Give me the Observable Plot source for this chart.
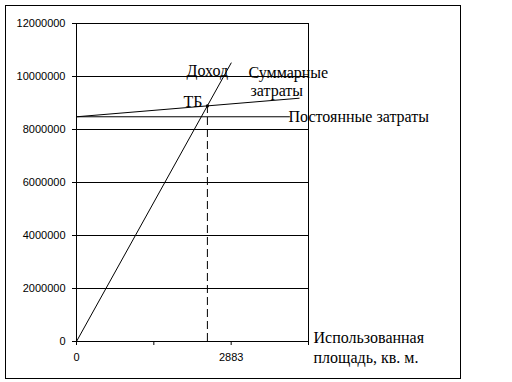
<!DOCTYPE html>
<html><head><meta charset="utf-8">
<script src="https://cdn.jsdelivr.net/npm/d3@7"></script>
<script src="https://cdn.jsdelivr.net/npm/@observablehq/plot@0.6"></script>
<style>
html,body{margin:0;padding:0;background:#fff;}
#wrap{position:relative;width:512px;height:382px;overflow:hidden;}
#frame{position:absolute;left:5px;top:5px;width:454px;height:372px;border:1px solid #000;}
#chart{position:absolute;left:0;top:0;}
</style></head><body>
<div id="wrap"><div id="frame"></div><div id="chart"></div></div>
<script>
// Data
const revenueX = [0, 2883];
const revenueY = [0, 10510000];
const totalX = [0, 4150];
const totalY = [8480000, 9180000];
const fixedX = [0, 3970];
const fixedY = [8480000, 8480000];
const breakEvenX = [2440];
const breakEvenY = [8890000];
const xTicks = [0, 1441.5, 2883, 4324.5];
const xTickLabels = ["0", "", "2883", ""];
const yTicks = [0, 2000000, 4000000, 6000000, 8000000, 10000000, 12000000];
const seriesLabels = ["Доход", "Суммарные", "затраты", "ТБ", "Постоянные затраты"];
const axisTitle = ["Использованная", "площадь, кв. м."];

const xMax = xTicks[xTicks.length - 1];
const toRows = (xs, ys) => xs.map((x, i) => ({x, y: ys[i]}));
const labelMap = new Map(xTicks.map((t, i) => [t, xTickLabels[i]]));

const serif = "'Liberation Serif', 'Times New Roman', serif";
const startLabels = [
  {t: seriesLabels[0], x: 2050, y: 10230000},
  {t: seriesLabels[1], x: 3206, y: 10150000},
  {t: seriesLabels[2], x: 3243, y: 9470000},
  {t: seriesLabels[4], x: 3952, y: 8460000},
  {t: axisTitle[0], x: 4418, y: 150000},
  {t: axisTitle[1], x: 4418, y: -600000}
];
const endLabels = [
  {t: seriesLabels[3], x: 2349, y: 9060000}
];

const chart = Plot.plot({
  width: 512, height: 382,
  marginLeft: 76, marginRight: 204, marginTop: 23, marginBottom: 41,
  style: {background: "transparent", fontFamily: "'Liberation Sans', Arial, sans-serif", fontSize: "11px", color: "#000", overflow: "visible"},
  x: {domain: [0, xMax]},
  y: {domain: [0, 12000000]},
  marks: [
    Plot.ruleY(yTicks.slice(1), {stroke: "#000", strokeWidth: 1}),
    Plot.ruleY([0], {stroke: "#000"}),
    Plot.ruleX([0], {stroke: "#000"}),
    Plot.ruleX([xMax], {stroke: "#000"}),
    Plot.axisY({ticks: yTicks, tickFormat: d => String(d), tickSize: 4, tickPadding: 7, label: null, stroke: "#000"}),
    Plot.axisX({ticks: xTicks, tickFormat: d => labelMap.get(d) ?? "", tickSize: 4, tickPadding: 8, label: null, stroke: "#000"}),
    Plot.line(toRows(fixedX, fixedY), {x: "x", y: "y", stroke: "#000", strokeWidth: 1}),
    Plot.line(toRows(totalX, totalY), {x: "x", y: "y", stroke: "#000", strokeWidth: 1}),
    Plot.line(toRows(revenueX, revenueY), {x: "x", y: "y", stroke: "#000", strokeWidth: 1}),
    Plot.ruleX(breakEvenX, {x: d => d, y1: 0, y2: breakEvenY[0], stroke: "#000", strokeDasharray: "8,4"}),
    Plot.dot(toRows(breakEvenX, breakEvenY), {x: "x", y: "y", r: 1.6, fill: "#000", stroke: "none"}),
    Plot.text(startLabels, {x: "x", y: "y", text: "t", textAnchor: "start", fontFamily: serif, fontSize: 16, fill: "#000", lineAnchor: "middle"}),
    Plot.text(endLabels, {x: "x", y: "y", text: "t", textAnchor: "end", fontFamily: serif, fontSize: 16, fill: "#000", lineAnchor: "middle"})
  ]
});
document.getElementById("chart").appendChild(chart);
</script>
</body></html>
